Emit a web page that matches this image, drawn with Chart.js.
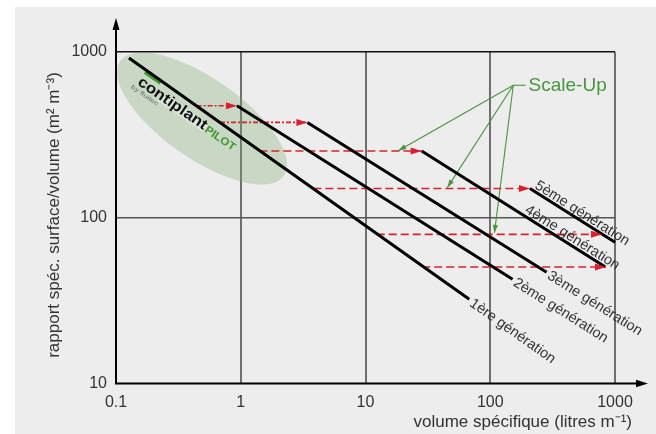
<!DOCTYPE html>
<html>
<head>
<meta charset="utf-8">
<script src="https://cdn.jsdelivr.net/npm/chart.js@4.4.1/dist/chart.umd.min.js"></script>
<style>
  html, body { margin: 0; padding: 0; background: #fff; }
  #wrap { width: 656px; height: 434px; }
</style>
</head>
<body>
<div id="wrap"><canvas id="chart" width="656" height="434"></canvas></div>
<script>
// axis ticks
const xTicks = [0.1, 1, 10, 100, 1000];
const xTickLabels = ['0.1', '1', '10', '100', '1000'];
const yTicks = [10, 100, 1000];
const yTickLabels = ['10', '100', '1000'];

// generation lines (volume, ratio)
const generations = ['1ère génération', '2ème génération', '3ème génération', '4ème génération', '5ème génération'];
const genStartX = [0.127, 0.933, 3.42, 28.2, 208];
const genStartY = [920, 474, 376, 253, 150];
const genEndX = [67.9, 151, 283, 832, 1000];
const genEndY = [32.2, 42.6, 46.9, 50.7, 71.1];

// red scale-up arrows (horizontal)
const scaleFromX = [0.443, 0.682, 1.41, 3.82, 12.3, 28.5];
const scaleToX = [0.933, 3.42, 28.2, 208, 787, 847];
const scaleY = [474, 376, 253, 150, 79.4, 50.5];

// green "Scale-Up" pointers
const pointerLabel = 'Scale-Up';
const pointerFrom = [153, 630];
const pointerStubX = 192;
const pointerToX = [18.3, 45.3, 108];
const pointerToY = [254, 152, 81];

// pilot plant zone
const pilotCenter = [0.489, 397];

const RED = '#d9202c';
const GREEN = '#4a9440';
const TEXT = '#333333';
const FONT = "'Liberation Sans', Arial, sans-serif";

const datasets = [];
for (let i = 0; i < generations.length; i++) {
    datasets.push({
        label: generations[i],
        data: [{ x: genStartX[i], y: genStartY[i] }, { x: genEndX[i], y: genEndY[i] }],
        borderColor: '#000', borderWidth: 3, kind: 'gen'
    });
}
for (let i = 0; i < scaleY.length; i++) {
    datasets.push({
        label: 'scale' + i,
        data: [{ x: scaleFromX[i], y: scaleY[i] }, { x: scaleToX[i], y: scaleY[i] }],
        borderColor: RED, borderWidth: 1.6,
        borderDash: i < 2 ? [5, 2, 2, 2] : [8, 4], kind: 'red'
    });
}
for (let i = 0; i < pointerToX.length; i++) {
    datasets.push({
        label: 'pointer' + i,
        data: [{ x: pointerFrom[0], y: pointerFrom[1] }, { x: pointerToX[i], y: pointerToY[i] }],
        borderColor: GREEN, borderWidth: 1.1, kind: 'green'
    });
}
datasets.push({
    label: 'stub',
    data: [{ x: pointerFrom[0], y: pointerFrom[1] }, { x: pointerStubX, y: pointerFrom[1] }],
    borderColor: GREEN, borderWidth: 1.1, kind: 'stub'
});
datasets.forEach(d => { d.showLine = true; d.pointRadius = 0; d.fill = false; d.clip = false; });

function head(c, x1, y1, x2, y2, len, half, color) {
    const a = Math.atan2(y2 - y1, x2 - x1);
    c.save();
    c.translate(x2, y2);
    c.rotate(a);
    c.beginPath();
    c.moveTo(0, 0);
    c.lineTo(-len, -half);
    c.lineTo(-len, half);
    c.closePath();
    c.fillStyle = color;
    c.fill();
    c.restore();
}

// text squeezed/stretched to a given length
function fitText(c, str, x, y, len) {
    const w = c.measureText(str).width;
    c.save();
    c.translate(x, y);
    c.scale(len / w, 1);
    c.fillText(str, 0, 0);
    c.restore();
}

const overlay = {
    id: 'overlay',
    beforeDraw(chart) {
        const c = chart.ctx;
        c.save();
        c.fillStyle = '#ffffff';
        c.fillRect(0, 0, chart.width, chart.height);
        c.fillStyle = '#ededed';
        c.fillRect(15, 7, chart.width - 15, chart.height - 7);
        c.restore();
    },
    beforeDatasetsDraw(chart) {
        const c = chart.ctx;
        const xs = chart.scales.x, ys = chart.scales.y;
        const cx = xs.getPixelForValue(pilotCenter[0]);
        const cy = ys.getPixelForValue(pilotCenter[1]);
        c.save();
        c.translate(cx, cy);
        c.rotate(35 * Math.PI / 180);
        c.beginPath();
        c.ellipse(0, 0, 100, 40, 0, 0, 2 * Math.PI);
        c.fillStyle = 'rgba(120,170,110,0.31)';
        c.fill();
        c.restore();

        // logo
        c.save();
        c.translate(cx - 29.5, cy - 15.8);
        c.rotate(34.7 * Math.PI / 180);
        c.fillStyle = 'rgba(255,255,255,0.35)';
        c.fillRect(-14, -3, 56, 10);
        c.strokeStyle = '#3f9a2e';
        c.lineWidth = 3;
        c.beginPath();
        c.moveTo(-40, -9);
        c.lineTo(-21, -9);
        c.stroke();
        c.textBaseline = 'alphabetic';
        c.fillStyle = '#111';
        c.font = 'bold 15px ' + FONT;
        fitText(c, 'contiplant', -40, 5, 81);
        c.fillStyle = '#3f9a2e';
        c.font = 'bold 11px ' + FONT;
        fitText(c, 'PILOT', 42, 5.5, 35);
        c.fillStyle = '#666';
        c.font = '6px ' + FONT;
        fitText(c, 'by fluitec', -43, 11.5, 32);
        c.restore();
    },
    afterDatasetsDraw(chart) {
        const c = chart.ctx;
        const xs = chart.scales.x, ys = chart.scales.y;
        const area = chart.chartArea;
        const P = (x, y) => [xs.getPixelForValue(x), ys.getPixelForValue(y)];

        // arrow heads
        chart.data.datasets.forEach(d => {
            if (d.kind !== 'red' && d.kind !== 'green') return;
            const [x1, y1] = P(d.data[0].x, d.data[0].y);
            const [x2, y2] = P(d.data[1].x, d.data[1].y);
            if (d.kind === 'red') head(c, x1, y1, x2, y2, 11, 3.5, RED);
            else head(c, x1, y1, x2, y2, 8, 2.6, GREEN);
        });

        // axes with arrows
        c.save();
        c.strokeStyle = '#000';
        c.lineWidth = 2;
        c.beginPath();
        c.moveTo(area.left, area.bottom + 1);
        c.lineTo(area.left, 28);
        c.moveTo(area.left - 1, area.bottom);
        c.lineTo(637, area.bottom);
        c.stroke();
        head(c, area.left, 40, area.left, 18, 12, 3.5, '#000');
        head(c, 600, area.bottom, 648, area.bottom, 12, 3.8, '#000');
        c.restore();

        // generation labels
        c.save();
        c.fillStyle = TEXT;
        c.font = '14.5px ' + FONT;
        for (let i = 0; i < generations.length; i++) {
            const [x1, y1] = P(genStartX[i], genStartY[i]);
            const [x2, y2] = P(genEndX[i], genEndY[i]);
            const a = Math.atan2(y2 - y1, x2 - x1);
            c.save();
            if (i < 3) {
                c.translate(x2, y2);
                c.rotate(a);
                c.textBaseline = 'middle';
                c.fillText(generations[i], 3, 1);
            } else {
                const t = i === 3 ? 0.55 : 0.03;
                c.translate(x1 + (x2 - x1) * t, y1 + (y2 - y1) * t);
                c.rotate(a);
                c.textBaseline = 'alphabetic';
                c.fillText(generations[i], 0, -3);
            }
            c.restore();
        }
        c.restore();

        // Scale-Up label
        const [sx, sy] = P(pointerStubX, pointerFrom[1]);
        c.save();
        c.fillStyle = GREEN;
        c.font = '19px ' + FONT;
        c.textBaseline = 'middle';
        c.fillText(pointerLabel, sx + 3, sy + 1);
        c.restore();

        // axis titles
        c.save();
        c.fillStyle = TEXT;
        c.font = '17px ' + FONT;
        c.textBaseline = 'middle';
        c.textAlign = 'right';
        c.fillText('volume spécifique (litres m⁻¹)', 632, 422);
        c.translate(54, 215);
        c.rotate(-Math.PI / 2);
        c.textAlign = 'center';
        c.fillText('rapport spéc. surface/volume (m² m⁻³)', 0, 0);
        c.restore();
    }
};

new Chart(document.getElementById('chart'), {
    type: 'scatter',
    data: { datasets: datasets },
    options: {
        responsive: false,
        animation: false,
        events: [],
        layout: { padding: { top: 52, right: 41, left: 0, bottom: 0 } },
        plugins: { legend: { display: false }, tooltip: { enabled: false } },
        scales: {
            x: {
                type: 'logarithmic',
                min: 0.1, max: 1000,
                afterBuildTicks: s => { s.ticks = xTicks.map(v => ({ value: v })); },
                afterFit: s => { s.height = 50.5; },
                ticks: {
                    callback: (v, i) => xTickLabels[i],
                    color: TEXT, font: { family: FONT, size: 16 }, padding: 9,
                    maxRotation: 0, autoSkip: false
                },
                grid: {
                    drawTicks: false,
                    color: ctx => (ctx.tick && ctx.tick.value === 0.1) ? 'rgba(0,0,0,0)' : '#6f6f6f',
                    lineWidth: 2
                },
                border: { display: false }
            },
            y: {
                type: 'logarithmic',
                min: 10, max: 1000,
                afterBuildTicks: s => { s.ticks = yTicks.map(v => ({ value: v })); },
                afterFit: s => { s.width = 116; },
                ticks: {
                    callback: (v, i) => yTickLabels[i],
                    color: TEXT, font: { family: FONT, size: 16 }, padding: 9,
                    autoSkip: false
                },
                grid: {
                    drawTicks: false,
                    color: ctx => {
                        if (!ctx.tick) return '#555';
                        if (ctx.tick.value === 10) return 'rgba(0,0,0,0)';
                        return ctx.tick.value === 1000 ? '#111' : '#555';
                    },
                    lineWidth: 1.5
                },
                border: { display: false }
            }
        }
    },
    plugins: [overlay]
});
</script>
</body>
</html>
